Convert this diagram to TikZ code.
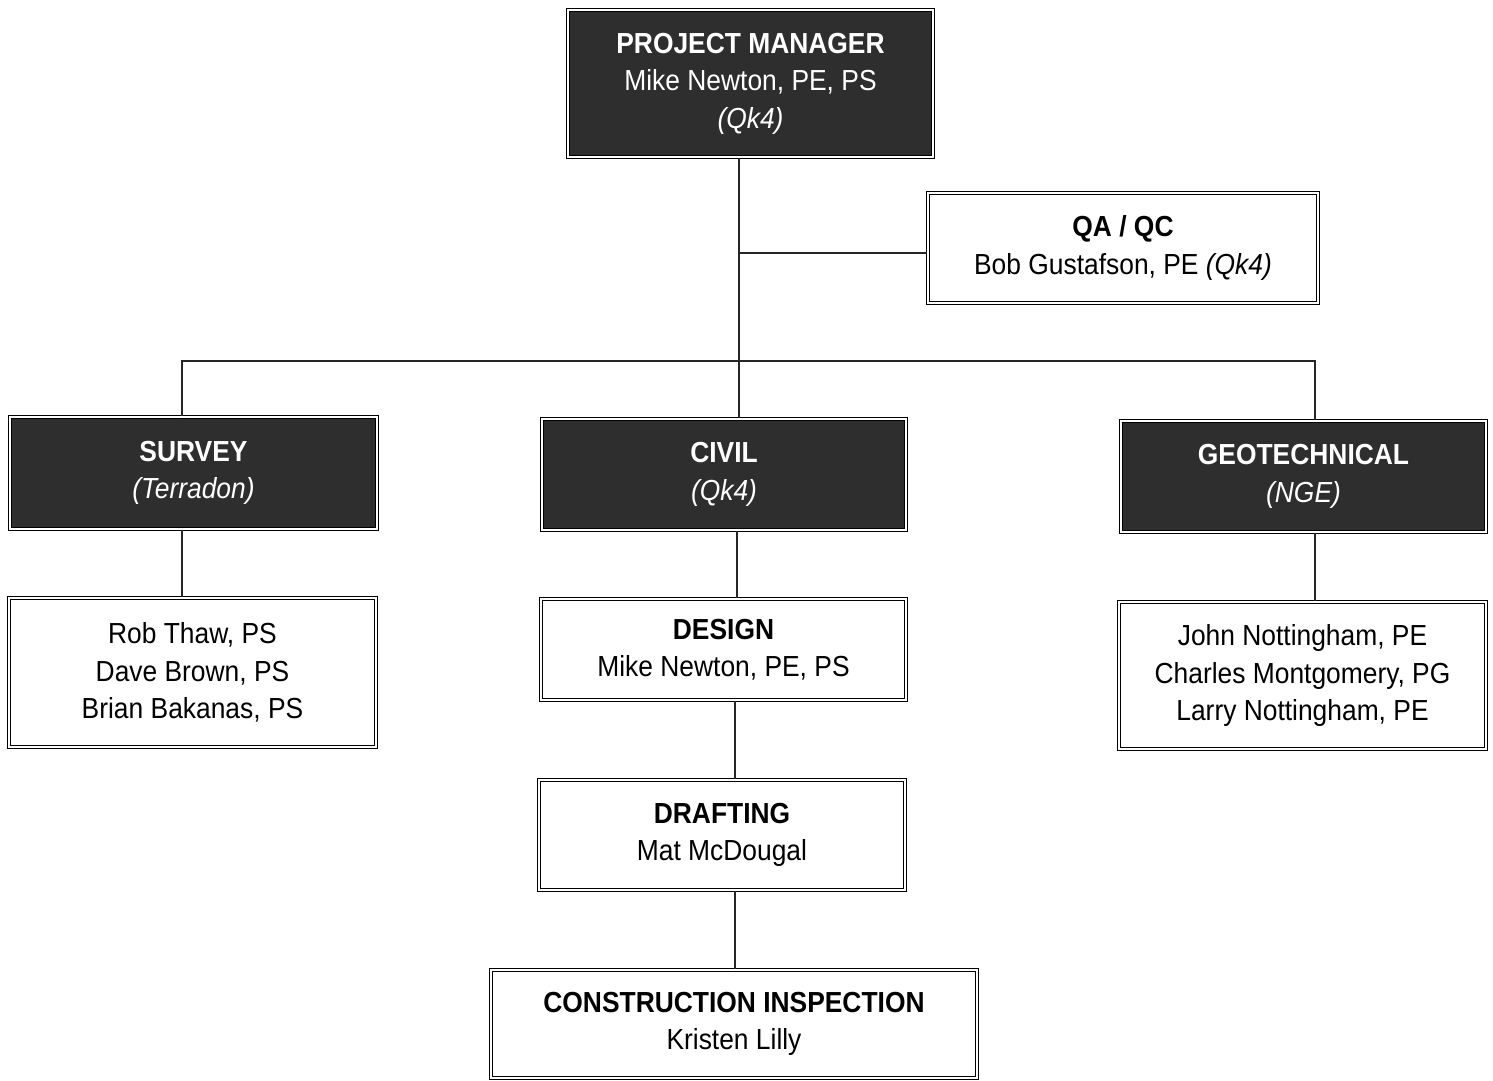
\documentclass[tikz,border=0pt]{standalone}
\usepackage{fontspec}
\setmainfont[FakeStretch=0.91]{Liberation Sans}
\begin{document}
\begin{tikzpicture}[x=1pt,y=-1pt,
  box/.style={draw=black, double=white, double distance=2.2pt, line width=1.2pt,
    fill=white, align=center, inner sep=0pt,
    font=\fontsize{29}{37.5}\selectfont},
  dark/.style={box, fill=black!82, text=white},
  conn/.style={line width=1.1pt, draw=black!85}]
\fill[white] (0,0) rectangle (1493,1080);
\useasboundingbox (0,0) rectangle (1493,1080);

\node[dark, minimum width=365, minimum height=147] (pm) at (750.5,83.5)
  {\textbf{PROJECT MANAGER}\\Mike Newton, PE, PS\\\textit{(Qk4)}};
\node[box, minimum width=390, minimum height=110] (qa) at (1123,248)
  {\textbf{QA / QC}\\Bob Gustafson, PE \textit{(Qk4)}};
\node[dark, minimum width=367, minimum height=112] (survey) at (193.5,473)
  {\textbf{SURVEY}\\\textit{(Terradon)}};
\node[dark, minimum width=364, minimum height=111] (civil) at (724,474.5)
  {\textbf{CIVIL}\\\textit{(Qk4)}};
\node[dark, minimum width=365, minimum height=111] (geo) at (1303.5,476.5)
  {\textbf{GEOTECHNICAL}\\\textit{(NGE)}};
\node[box, minimum width=367, minimum height=149] (surveyp) at (192.5,672.5)
  {Rob Thaw, PS\\Dave Brown, PS\\Brian Bakanas, PS};
\node[box, minimum width=365, minimum height=101] (design) at (723.5,649.5)
  {\textbf{DESIGN}\\Mike Newton, PE, PS};
\node[box, minimum width=367, minimum height=147] (geop) at (1302.5,675.5)
  {John Nottingham, PE\\Charles Montgomery, PG\\Larry Nottingham, PE};
\node[box, minimum width=366, minimum height=110] (draft) at (722,835)
  {\textbf{DRAFTING}\\Mat McDougal};
\node[box, minimum width=486, minimum height=108] (ci) at (734,1024)
  {\textbf{CONSTRUCTION INSPECTION}\\Kristen Lilly};

\coordinate (j1) at (739,253);
\coordinate (j2) at (739,361);
\coordinate (jl) at (182,361);
\coordinate (jr) at (1315,361);

\draw[conn] (pm.south -| j1) -- (j1) -- (j2) -- (civil.north -| j2);
\draw[conn] (j1) -- (qa.west |- j1);
\draw[conn] (survey.north -| jl) -- (jl) -- (jr) -- (geo.north -| jr);
\draw[conn] (survey.south -| jl) -- (surveyp.north -| jl);
\draw[conn] (geo.south -| jr) -- (geop.north -| jr);
\draw[conn] (civil.south -| 737,0) -- (design.north -| 737,0);
\draw[conn] (design.south -| 735,0) -- (draft.north -| 735,0);
\draw[conn] (draft.south -| 735,0) -- (ci.north -| 735,0);
\end{tikzpicture}
\end{document}
